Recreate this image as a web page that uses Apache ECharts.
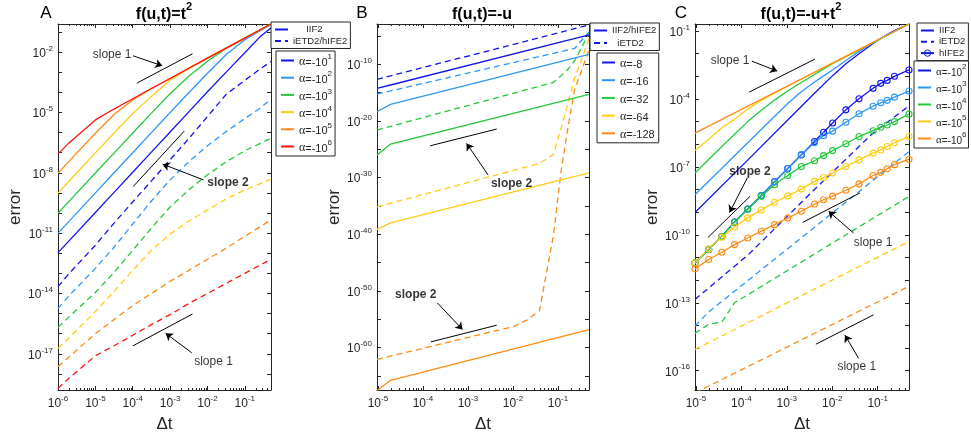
<!DOCTYPE html>
<html><head><meta charset="utf-8">
<script src="https://cdn.jsdelivr.net/npm/echarts@6.0.0/dist/echarts.min.js"></script>
<style>html,body{margin:0;padding:0;background:#fff}#c{width:971px;height:440px}</style>
</head><body><div id="c"></div><script>
// ================= DATA =================
// Panel A : f(u,t)=t^2
const dtA = [1e-6, 2e-6, 1e-5, 3.16e-5, 1e-4, 3.16e-4, 1e-3, 3.16e-3, 1e-2, 3.16e-2, 0.1, 0.25, 0.5];
const errA_iif2_1 = [1.07e-12, 4.27e-12, 1.07e-10, 1.07e-9, 1.07e-8, 1.07e-7, 1.07e-6, 1.07e-5, 1.07e-4, 1.02e-3, 9.33e-3, 5.62e-2, 0.158];
const errA_iif2_2 = [1e-11, 3.98e-11, 1e-9, 1e-8, 1e-7, 1e-6, 1e-5, 9.55e-5, 8.91e-4, 7.59e-3, 4.17e-2, 0.112, 0.240];
const errA_iif2_3 = [9.77e-11, 3.89e-10, 9.77e-9, 9.55e-8, 9.55e-7, 9.33e-6, 8.51e-5, 6.31e-4, 3.55e-3, 1.51e-2, 5.01e-2, 0.126, 0.251];
const errA_iif2_4 = [9.77e-10, 3.89e-9, 9.77e-8, 9.55e-7, 8.91e-6, 6.31e-5, 3.98e-4, 1.51e-3, 5.01e-3, 1.58e-2, 5.01e-2, 0.126, 0.251];
const errA_iif2_5 = [9.55e-9, 3.80e-8, 9.33e-7, 7.94e-6, 4.17e-5, 1.55e-4, 4.90e-4, 1.58e-3, 5.01e-3, 1.58e-2, 5.01e-2, 0.126, 0.251];
const errA_iif2_6 = [8.71e-8, 3.16e-7, 4.27e-6, 1.48e-5, 4.79e-5, 1.55e-4, 4.90e-4, 1.58e-3, 5.01e-3, 1.58e-2, 5.01e-2, 0.126, 0.251];
const errA_etd_1 = [2.19e-14, 1e-13, 2.51e-12, 3.16e-11, 3.55e-10, 3.98e-9, 4.47e-8, 5.01e-7, 6.31e-6, 7.94e-5, 3.98e-4, 1.41e-3, 3.39e-3];
const errA_etd_2 = [1.82e-15, 7.94e-15, 1.78e-13, 2.0e-12, 2.82e-11, 3.98e-10, 4.47e-9, 3.55e-8, 2.24e-7, 1.12e-6, 5.01e-6, 1.58e-5, 4.57e-5];
const errA_etd_3 = [2.09e-16, 7.08e-16, 1.12e-14, 1.12e-13, 1.41e-12, 1.78e-11, 2.0e-10, 1.41e-9, 7.94e-9, 3.55e-8, 1.26e-7, 2.82e-7, 5.25e-7];
const errA_etd_4 = [1.86e-17, 6.31e-17, 1.26e-15, 1.26e-14, 1.41e-13, 1.41e-12, 8.91e-12, 3.98e-11, 1.41e-10, 5.01e-10, 1.41e-9, 2.82e-9, 4.79e-9];
const errA_etd_5 = [2.29e-18, 7.08e-18, 1e-16, 5.01e-16, 2.51e-15, 1e-14, 3.98e-14, 1.41e-13, 5.01e-13, 1.78e-12, 7.08e-12, 2.0e-11, 4.57e-11];
const errA_etd_6 = [1.91e-19, 6.31e-19, 7.94e-18, 2.51e-17, 8.32e-17, 2.82e-16, 8.91e-16, 3.16e-15, 1e-14, 3.16e-14, 1e-13, 2.51e-13, 5.01e-13];

// Panel B : f(u,t)=-u
const dtB_solid = [9.55e-6, 1.91e-5, 0.49];
const errB_iif2_8 = [5.75e-15, 2.24e-14, 1.51e-5];
const errB_iif2_16 = [4.27e-19, 8.51e-18, 5.89e-9];
const errB_iif2_32 = [9.55e-27, 8.32e-25, 5.01e-16];
const errB_iif2_64 = [7.08e-40, 1.02e-38, 7.08e-30];
const errB_iif2_128 = [2.51e-68, 1.66e-66, 1.51e-57];
const dtB_etd_8 = [9.55e-6, 0.49];
const errB_etd_8 = [2.24e-13, 8.71e-4];
const dtB_etd_16 = [9.55e-6, 0.234, 0.49];
const errB_etd_16 = [5.62e-16, 6.31e-8, 5.01e-5];
const dtB_etd_32 = [9.55e-6, 0.0794, 0.162, 0.234, 0.49];
const errB_etd_32 = [2.51e-22, 6.31e-14, 1e-11, 3.98e-10, 3.16e-5];
const dtB_etd_64 = [9.55e-6, 0.0389, 0.0794, 0.117, 0.162, 0.234, 0.49];
const errB_etd_64 = [6.92e-36, 3.16e-28, 1.26e-26, 5.01e-22, 5.01e-18, 3.16e-13, 3.16e-6];
const dtB_etd_128 = [9.55e-6, 0.0102, 0.02, 0.0389, 0.0794, 0.117, 0.162, 0.234, 0.49];
const errB_etd_128 = [7.94e-63, 5.01e-57, 6.31e-56, 3.16e-54, 6.31e-41, 1e-29, 1.58e-22, 3.16e-15, 3.16e-8];

// Panel C : f(u,t)=-u+t^2
const dtC = [9.55e-6, 1.91e-5, 3.72e-5, 7.08e-5, 1.38e-4, 2.75e-4, 5.37e-4, 1.05e-3, 2.09e-3, 4.07e-3, 6.46e-3, 1.02e-2, 2.0e-2, 3.89e-2, 7.94e-2, 0.117, 0.162, 0.234, 0.49];
const dtC_iif2_6 = [9.55e-6, 0.49];
const errC_iif2_6 = [3.09e-6, 0.204];
const dtC_iif2_5 = [9.55e-6, 1.91e-5, 3.72e-5, 7.08e-5, 1.38e-4, 2.75e-4, 5.37e-4, 1.05e-3, 0.49];
const errC_iif2_5 = [5.25e-7, 1.66e-6, 5.37e-6, 1.26e-5, 3.55e-5, 8.51e-5, 1.82e-4, 3.63e-4, 0.204];
const dtC_iif2_4 = [9.55e-6, 3.72e-5, 1.38e-4, 2.75e-4, 5.37e-4, 1.05e-3, 2.09e-3, 4.07e-3, 1.02e-2, 0.49];
const errC_iif2_4 = [5.37e-8, 7.94e-7, 1e-5, 3.16e-5, 8.91e-5, 2.24e-4, 5.37e-4, 1.20e-3, 3.63e-3, 0.204];
const dtC_iif2_3 = [9.55e-6, 1.38e-4, 1.05e-3, 2.09e-3, 4.07e-3, 6.46e-3, 1.02e-2, 2.0e-2, 3.89e-2, 7.94e-2, 0.49];
const errC_iif2_3 = [5.89e-9, 1.17e-6, 6.31e-5, 2.09e-4, 5.62e-4, 1.05e-3, 1.91e-3, 5.01e-3, 1.26e-2, 3.16e-2, 0.204];
const dtC_iif2_2 = [9.55e-6, 1.38e-4, 1.05e-3, 4.07e-3, 1.02e-2, 2.0e-2, 3.89e-2, 7.94e-2, 0.117, 0.162, 0.234, 0.49];
const errC_iif2_2 = [9.77e-10, 2.0e-7, 1.17e-5, 1.78e-4, 1.07e-3, 3.55e-3, 1.0e-2, 2.82e-2, 4.68e-2, 6.92e-2, 0.105, 0.204];
const errC_hife_2 = [5.75e-12, 2.24e-11, 8.51e-11, 3.72e-10, 1.38e-9, 5.50e-9, 2.24e-8, 8.51e-8, 3.39e-7, 1.32e-6, 3.39e-6, 8.71e-6, 3.31e-5, 1.02e-4, 2.95e-4, 4.90e-4, 6.61e-4, 1.0e-3, 1.91e-3];
const errC_hife_3 = [5.75e-12, 2.24e-11, 8.51e-11, 3.72e-10, 1.38e-9, 5.50e-9, 2.19e-8, 8.51e-8, 3.47e-7, 1.17e-6, 2.40e-6, 3.80e-6, 9.33e-6, 2.24e-5, 4.79e-5, 6.76e-5, 8.71e-5, 1.20e-4, 2.24e-4];
const errC_hife_4 = [5.75e-12, 2.24e-11, 8.51e-11, 3.55e-10, 1.35e-9, 5.01e-9, 1.62e-8, 4.17e-8, 1.05e-7, 1.86e-7, 3.16e-7, 5.25e-7, 1.05e-6, 2.19e-6, 3.98e-6, 5.62e-6, 7.08e-6, 1.0e-5, 2.14e-5];
const errC_hife_5 = [5.75e-12, 2.40e-11, 7.94e-11, 2.24e-10, 5.62e-10, 1.26e-9, 2.75e-9, 5.25e-9, 1.05e-8, 2.29e-8, 3.39e-8, 5.37e-8, 1.05e-7, 2.04e-7, 4.07e-7, 5.62e-7, 7.94e-7, 1.17e-6, 2.19e-6];
const errC_hife_6 = [3.16e-12, 8.13e-12, 1.70e-11, 3.72e-11, 7.24e-11, 1.45e-10, 2.82e-10, 5.50e-10, 1.10e-9, 2.29e-9, 3.55e-9, 5.13e-9, 9.33e-9, 1.78e-8, 4.17e-8, 5.75e-8, 8.32e-8, 1.26e-7, 2.19e-7];
const dtC_etd_2 = [9.55e-6, 1.38e-4, 4.07e-3, 7.94e-2, 0.49];
const errC_etd_2 = [1.41e-13, 1.26e-11, 1e-8, 3.16e-6, 4.90e-5];
const dtC_etd_3 = [9.55e-6, 1.91e-5, 5.37e-4, 1.02e-2, 0.49];
const errC_etd_3 = [9.33e-15, 3.98e-14, 8.32e-12, 9.33e-10, 4.79e-7];
const dtC_etd_4 = [9.55e-6, 1.91e-5, 3.72e-5, 7.08e-5, 0.49];
const errC_etd_4 = [4.47e-15, 1.12e-14, 1.41e-14, 1e-13, 5.01e-9];
const dtC_etd_5 = [9.55e-6, 0.49];
const errC_etd_5 = [8.71e-16, 5.13e-11];
const dtC_etd_6 = [9.55e-6, 0.49];
const errC_etd_6 = [1.05e-17, 5.37e-13];

// slope guide segments [dt1, err1, dt2, err2], arrows [fromDt, fromErr, toDt, toErr], labels [text, dt, err, bold]
const slopeLinesA = [[1.29e-4, 2.88e-4, 3.98e-3, 8.32e-3], [1.02e-4, 2.04e-9, 2.40e-3, 1.20e-6], [1.02e-4, 2.51e-17, 3.98e-3, 9.55e-16]];
const arrowsA = [[1.02e-4, 6.61e-3, 6.17e-4, 2.09e-3], [7.76e-3, 4.47e-9, 6.31e-4, 2.69e-8], [3.80e-3, 1.12e-17, 7.59e-4, 1.05e-16]];
const labelsA = [['slope 1', 2.8e-5, 7.41e-3, false], ['slope 2', 3.55e-2, 3.24e-9, true], ['slope 1', 1.45e-2, 4.07e-18, false]];
const slopeLinesB = [[1.45e-4, 4.17e-25, 4.37e-3, 3.72e-22], [1.51e-4, 1e-59, 4.37e-3, 8.71e-57]];
const arrowsB = [[2.82e-3, 2.75e-30, 9.33e-4, 1.10e-24], [2.09e-4, 7.59e-53, 7.59e-4, 1.51e-57]];
const labelsB = [['slope 2', 9.33e-3, 9.55e-32, true], ['slope 2', 6.92e-5, 1.74e-51, true]];
const slopeLinesC = [[1.48e-4, 2.0e-4, 4.17e-3, 5.75e-3], [1.86e-5, 7.76e-11, 1.55e-4, 5.01e-9], [2.24e-3, 3.55e-10, 4.07e-2, 7.08e-9], [4.37e-3, 1.48e-15, 8.13e-2, 2.95e-14]];
const arrowsC = [[1.70e-4, 4.68e-3, 6.17e-4, 1.70e-3], [1.35e-4, 3.24e-8, 5.50e-5, 9.77e-10], [2.95e-2, 1.20e-10, 8.32e-3, 1.10e-9], [3.80e-2, 3.55e-16, 1.91e-2, 3.72e-15]];
const labelsC = [['slope 1', 5.62e-5, 4.68e-3, false], ['slope 2', 1.55e-4, 6.31e-8, true], ['slope 1', 7.94e-2, 4.37e-11, false], ['slope 1', 3.47e-2, 1.51e-16, false]];

// tick exponents
const xTicksA = [-6, -5, -4, -3, -2, -1];
const xTicksBC = [-5, -4, -3, -2, -1];
const yLabelsA = [-17, -14, -11, -8, -5, -2];
const yLabelsB = [-60, -50, -40, -30, -20, -10];
const yLabelsC = [-16, -13, -10, -7, -4, -1];

// ================= STYLE / BUILD =================
const INK = '#262626';
const FONT = '"Liberation Sans", Arial, Helvetica, sans-serif';
const COL = {blue: '#1414f0', lblue: '#2d96f7', green: '#22c83a', yellow: '#ffcc14', orange: '#ff8a14', red: '#ff1414'};
const L = v => Math.log10(v);
const mk = (xs, ys) => xs.map((x, i) => [L(x), L(ys[i])]);
const seq = (a, b, s) => { const o = []; for (let v = a; v <= b + 1e-9; v += s) o.push(v); return o; };
const minors = (mn, mx) => { const o = []; for (let n = -7; n <= 0; n++) for (let k = 2; k <= 9; k++) { const v = n + Math.log10(k); if (v > mn && v < mx) o.push(v); } return o; };

const tickRich = {
  b: {fontSize: 12, color: INK, fontFamily: FONT, padding: [3, 0, 0, 0], verticalAlign: 'bottom'},
  s: {fontSize: 8, color: INK, fontFamily: FONT, verticalAlign: 'top'}
};
const powFmt = v => '{b|10}{s|' + Math.round(v) + '}';

const panels = [
  {grid: {left: 58, top: 24, width: 213, height: 366}, x: [-6, -0.3], xt: xTicksA, y: [-18.8, -0.6], yl: yLabelsA, yt: seq(-18, -1, 1), gap: 33},
  {grid: {left: 377, top: 24, width: 212, height: 366}, x: [-5.02, -0.31], xt: xTicksBC, y: [-67.5, -2.88], yl: yLabelsB, yt: seq(-65, -5, 5), gap: 33},
  {grid: {left: 695, top: 24, width: 214, height: 366}, x: [-5.02, -0.31], xt: xTicksBC, y: [-16.85, -0.69], yl: yLabelsC, yt: seq(-16, -1, 1), gap: 31}
];

const xAxes = [], yAxes = [], grids = [];
panels.forEach((p, g) => {
  grids.push(p.grid);
  const line = {show: true, onZero: false, lineStyle: {color: INK, width: 1}};
  const base = {gridIndex: g, type: 'value', min: p.x[0], max: p.x[1], splitLine: {show: false}, silent: true};
  const mn = minors(p.x[0], p.x[1]);
  xAxes.push(Object.assign({}, base, {position: 'bottom', axisLine: line,
    axisTick: {show: true, inside: true, length: 4, customValues: p.xt, lineStyle: {color: INK}},
    axisLabel: {show: true, customValues: p.xt, formatter: powFmt, rich: tickRich, margin: 5},
    name: 'Δt', nameLocation: 'middle', nameGap: 26, nameTextStyle: {fontSize: 17, color: INK, fontFamily: FONT}}));
  xAxes.push(Object.assign({}, base, {position: 'bottom', axisLine: {show: false},
    axisTick: {show: true, inside: true, length: 2, customValues: mn, lineStyle: {color: INK}}, axisLabel: {show: false}}));
  xAxes.push(Object.assign({}, base, {position: 'top', axisLine: line,
    axisTick: {show: true, inside: true, length: 4, customValues: p.xt, lineStyle: {color: INK}}, axisLabel: {show: false}}));
  xAxes.push(Object.assign({}, base, {position: 'top', axisLine: {show: false},
    axisTick: {show: true, inside: true, length: 2, customValues: mn, lineStyle: {color: INK}}, axisLabel: {show: false}}));
  const yb = {gridIndex: g, type: 'value', min: p.y[0], max: p.y[1], splitLine: {show: false}, silent: true};
  yAxes.push(Object.assign({}, yb, {position: 'left', axisLine: line,
    axisTick: {show: true, inside: true, length: 4, customValues: p.yt, lineStyle: {color: INK}},
    axisLabel: {show: true, customValues: p.yl, formatter: powFmt, rich: tickRich, margin: 5},
    name: 'error', nameLocation: 'middle', nameGap: p.gap, nameRotate: 90, nameTextStyle: {fontSize: 17, color: INK, fontFamily: FONT}}));
  yAxes.push(Object.assign({}, yb, {position: 'right', axisLine: line,
    axisTick: {show: true, inside: true, length: 4, customValues: p.yt, lineStyle: {color: INK}}, axisLabel: {show: false}}));
});

const series = [];
function add(g, name, xs, ys, color, kind) {
  const s = {type: 'line', name: name, xAxisIndex: g * 4, yAxisIndex: g * 2, data: xs ? mk(xs, ys) : [],
    symbol: 'none', silent: true, clip: true, z: 3,
    lineStyle: {color: color, width: 1.3, type: kind === 'dash' ? [6, 4] : 'solid'}, itemStyle: {color: color}};
  if (kind === 'circ') {
    s.symbol = 'circle'; s.symbolSize = 6; s.showSymbol = true;
    s.itemStyle = {color: 'rgba(255,255,255,0)', borderColor: color, borderWidth: 1.1};
  }
  series.push(s);
}
function annot(g, lines, arrows, labels) {
  lines.forEach((l, i) => {
    const s = {type: 'line', xAxisIndex: g * 4, yAxisIndex: g * 2, data: [[L(l[0]), L(l[1])], [L(l[2]), L(l[3])]],
      symbol: 'none', silent: true, z: 4, lineStyle: {color: '#000', width: 1}};
    if (i === 0) s.markLine = {silent: true, symbol: ['none', 'arrow'], symbolSize: 7, label: {show: false},
      lineStyle: {color: '#000', width: 1, type: 'solid'},
      data: arrows.map(a => [{coord: [L(a[0]), L(a[1])]}, {coord: [L(a[2]), L(a[3])]}])};
    series.push(s);
  });
  series.push({type: 'scatter', xAxisIndex: g * 4, yAxisIndex: g * 2, silent: true, z: 5, symbolSize: 1,
    itemStyle: {color: 'rgba(0,0,0,0)'},
    label: {show: true, position: 'inside', formatter: '{b}', fontSize: 12, color: '#000', fontFamily: FONT},
    data: labels.map(t => ({name: t[0], value: [L(t[1]), L(t[2])], label: {fontWeight: t[3] ? 'bold' : 'normal'}}))});
}

// Panel A
const colsA = [COL.blue, COL.lblue, COL.green, COL.yellow, COL.orange, COL.red];
[errA_etd_1, errA_etd_2, errA_etd_3, errA_etd_4, errA_etd_5, errA_etd_6].forEach((e, i) => add(0, 'A_d' + i, dtA, e, colsA[i], 'dash'));
[errA_iif2_1, errA_iif2_2, errA_iif2_3, errA_iif2_4, errA_iif2_5, errA_iif2_6].forEach((e, i) => add(0, 'A_s' + i, dtA, e, colsA[i], 'solid'));
add(0, 'A_iif2', null, null, COL.blue, 'solid');
add(0, 'A_etd', null, null, COL.blue, 'dash');
annot(0, slopeLinesA, arrowsA, labelsA);

// Panel B
const colsB = [COL.blue, COL.lblue, COL.green, COL.yellow, COL.orange];
[[dtB_etd_8, errB_etd_8], [dtB_etd_16, errB_etd_16], [dtB_etd_32, errB_etd_32], [dtB_etd_64, errB_etd_64], [dtB_etd_128, errB_etd_128]]
  .forEach((d, i) => add(1, 'B_d' + i, d[0], d[1], colsB[i], 'dash'));
[errB_iif2_8, errB_iif2_16, errB_iif2_32, errB_iif2_64, errB_iif2_128].forEach((e, i) => add(1, 'B_s' + i, dtB_solid, e, colsB[i], 'solid'));
add(1, 'B_iif2', null, null, COL.blue, 'solid');
add(1, 'B_etd', null, null, COL.blue, 'dash');
annot(1, slopeLinesB, arrowsB, labelsB);

// Panel C
const colsC = [COL.blue, COL.lblue, COL.green, COL.yellow, COL.orange];
[[dtC_etd_2, errC_etd_2], [dtC_etd_3, errC_etd_3], [dtC_etd_4, errC_etd_4], [dtC_etd_5, errC_etd_5], [dtC_etd_6, errC_etd_6]]
  .forEach((d, i) => add(2, 'C_d' + i, d[0], d[1], colsC[i], 'dash'));
[[dtC_iif2_2, errC_iif2_2], [dtC_iif2_3, errC_iif2_3], [dtC_iif2_4, errC_iif2_4], [dtC_iif2_5, errC_iif2_5], [dtC_iif2_6, errC_iif2_6]]
  .forEach((d, i) => add(2, 'C_s' + i, d[0], d[1], colsC[i], 'solid'));
[errC_hife_2, errC_hife_3, errC_hife_4, errC_hife_5, errC_hife_6].forEach((e, i) => add(2, 'C_h' + i, dtC, e, colsC[i], 'circ'));
add(2, 'C_iif2', null, null, COL.blue, 'solid');
add(2, 'C_etd', null, null, COL.blue, 'dash');
add(2, 'C_hife', null, null, COL.blue, 'circ');
annot(2, slopeLinesC, arrowsC, labelsC);

// legends
const LAB = {
  A_iif2: '     IIF2', A_etd: 'iETD2/hIFE2', B_iif2: 'IIF2/hIFE2', B_etd: '  iETD2',
  C_iif2: 'IIF2', C_etd: 'iETD2', C_hife: 'hIFE2',
  A_s0: '1', A_s1: '2', A_s2: '3', A_s3: '4', A_s4: '5', A_s5: '6',
  C_s0: '2', C_s1: '3', C_s2: '4', C_s3: '5', C_s4: '6'
};
const B_ALPHA = ['-8', '-16', '-32', '-64', '-128'];
function legRich(big) {
  return {
    g: {fontFamily: '"Liberation Serif", "DejaVu Serif", serif', fontSize: big ? 12 : 11, color: INK, padding: [3, 0, 0, 0], verticalAlign: 'bottom'},
    t: {fontFamily: FONT, fontSize: big ? 11 : 10, color: INK, padding: [3, 0, 0, 0], verticalAlign: 'bottom'},
    s: {fontFamily: FONT, fontSize: 8, color: INK, verticalAlign: 'top'}
  };
}
function legFmt(name) {
  if (name.indexOf('B_s') === 0) return '{g|α}{t|=' + B_ALPHA[+name.slice(3)] + '}';
  if (name.indexOf('_s') === 1) return '{g|α}{t|=-10}{s|' + LAB[name] + '}';
  return LAB[name];
}
function legend(left, top, names, small, gap, pad, big) {
  return {left: left, top: top, orient: 'vertical', selectedMode: false,
    data: names.map(n => n === 'C_hife' ? {name: n, itemStyle: {opacity: 1, borderWidth: 1}} : {name: n}),
    itemWidth: 13, itemHeight: small ? 8 : 10, itemGap: gap, padding: pad,
    borderColor: INK, borderWidth: 1, backgroundColor: '#fff', borderRadius: 0,
    itemStyle: {opacity: 0},
    formatter: legFmt, z: 10,
    textStyle: {fontSize: small ? 9.5 : 11, lineHeight: small ? 11 : 15, color: INK, fontFamily: FONT, rich: legRich(big)}};
}
const legends = [
  legend(271, 22, ['A_iif2', 'A_etd'], true, 0.5, [2, 3, 2, 3]),
  legend(276, 51, ['A_s0', 'A_s1', 'A_s2', 'A_s3', 'A_s4', 'A_s5'], false, 2.2, [2, 3, 2, 4], true),
  legend(590, 23, ['B_iif2', 'B_etd'], true, 1.5, [2, 3, 2, 3]),
  legend(597, 53, ['B_s0', 'B_s1', 'B_s2', 'B_s3', 'B_s4'], false, 2.7, [2, 4, 2, 4], true),
  legend(917, 23, ['C_iif2', 'C_etd', 'C_hife'], true, 0.3, [2, 3, 2, 3]),
  legend(914, 61, ['C_s0', 'C_s1', 'C_s2', 'C_s3', 'C_s4'], false, 2, [2, 2, 2, 3], false)
];

const titleRich = {
  t: {fontSize: 16, fontWeight: 'bold', fontFamily: FONT, color: '#000', padding: [5, 0, 0, 0], verticalAlign: 'bottom'},
  s: {fontSize: 11, fontWeight: 'bold', fontFamily: FONT, color: '#000', verticalAlign: 'top'}
};
function gtext(x, y, text, rich, size) {
  return {type: 'text', x: x, y: y, z: 20, silent: true,
    style: {text: text, rich: rich, fontSize: size || 16, fontFamily: FONT, fill: '#000',
      align: 'center', verticalAlign: 'middle', textAlign: 'center', textVerticalAlign: 'middle'}};
}
const graphics = [
  gtext(164, 12, '{t|f(u,t)=t}{s|2}', titleRich),
  gtext(482, 12, '{t|f(u,t)=-u}', titleRich),
  gtext(801, 12, '{t|f(u,t)=-u+t}{s|2}', titleRich),
  gtext(46, 13, 'A', null, 17),
  gtext(362, 13, 'B', null, 17),
  gtext(681, 13, 'C', null, 17)
];

const chart = echarts.init(document.getElementById('c'), null, {renderer: 'canvas'});
chart.setOption({
  backgroundColor: '#fff', animation: false,
  textStyle: {fontFamily: FONT},
  grid: grids, xAxis: xAxes, yAxis: yAxes, series: series, legend: legends, graphic: graphics
});
</script></body></html>
